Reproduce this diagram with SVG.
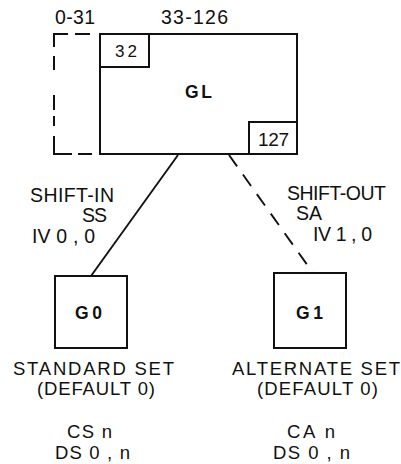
<svg xmlns="http://www.w3.org/2000/svg" width="401" height="464" viewBox="0 0 401 464">
<style>
text{font-family:"Liberation Sans",Arial,sans-serif;fill:#111;font-size:19.5px}
.s{font-size:18.5px}
.b{font-weight:bold;font-size:17.5px}
.box{fill:none;stroke:#111;stroke-width:2}
.ln{fill:none;stroke:#111;stroke-width:1.9}
.dash{stroke-dasharray:14 10}
</style>
<rect width="401" height="464" fill="#fff"/>
<g id="GL">
<path class="box" d="M68,34 H54 V47 M75,34 H90 M54,56 V70 M54,95 V110 M54,116 V126 M54,136 V154 H72 M78,154 H92"/>
<rect class="box" x="100" y="34" width="197" height="120"/>
<rect class="box" x="100" y="34" width="49" height="33"/>
<rect class="box" x="249" y="122" width="48" height="32"/>
<text x="55" y="24" textLength="40" lengthAdjust="spacing">0-31</text>
<text x="161" y="24" textLength="67" lengthAdjust="spacing">33-126</text>
<text x="115" y="57" style="font-size:17px" textLength="22" lengthAdjust="spacing">32</text>
<text class="b" x="185" y="98" textLength="27" lengthAdjust="spacing">GL</text>
<text x="258" y="146" style="font-size:19px" textLength="31" lengthAdjust="spacing">127</text>
</g>
<g id="connectors">
<line class="ln" x1="178" y1="155" x2="91" y2="276"/>
<line class="ln dash" x1="229" y1="155" x2="313" y2="273"/>
<text x="30" y="202" textLength="84" lengthAdjust="spacing">SHIFT-IN</text>
<text x="82" y="222" textLength="25" lengthAdjust="spacing">SS</text>
<text x="32" y="243" textLength="63" lengthAdjust="spacing">IV 0 , 0</text>
<text x="287" y="200" textLength="99" lengthAdjust="spacing">SHIFT-OUT</text>
<text x="296" y="220" textLength="26" lengthAdjust="spacing">SA</text>
<text x="313" y="241" textLength="59" lengthAdjust="spacing">IV 1 , 0</text>
</g>
<g id="G0">
<rect class="box" x="55" y="276" width="72" height="72"/>
<text class="b" x="75" y="319" textLength="27" lengthAdjust="spacing">G0</text>
<text class="s" x="13" y="374.5" textLength="161" lengthAdjust="spacing">STANDARD SET</text>
<text class="s" x="37" y="395" textLength="118" lengthAdjust="spacing">(DEFAULT 0)</text>
<text class="s" x="67" y="438" textLength="45" lengthAdjust="spacing">CS n</text>
<text class="s" x="55" y="459" textLength="75" lengthAdjust="spacing">DS 0 , n</text>
</g>
<g id="G1">
<rect class="box" x="274" y="273" width="72" height="75"/>
<text class="b" x="296" y="319" textLength="27" lengthAdjust="spacing">G1</text>
<text class="s" x="232" y="374.5" textLength="168" lengthAdjust="spacing">ALTERNATE SET</text>
<text class="s" x="257" y="395" textLength="121" lengthAdjust="spacing">(DEFAULT 0)</text>
<text class="s" x="287" y="438" textLength="48" lengthAdjust="spacing">CA n</text>
<text class="s" x="273" y="459" textLength="77" lengthAdjust="spacing">DS 0 , n</text>
</g>
</svg>
